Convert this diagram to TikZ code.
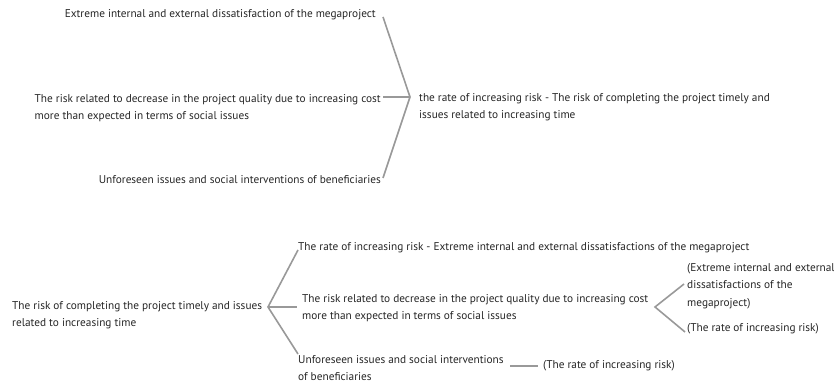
\documentclass[tikz,border=0pt]{standalone}
\usepackage{fontspec}
\setmainfont{PT Sans}
\begin{document}
\begin{tikzpicture}[x=1pt,y=-1pt,
  txt/.style={inner sep=0pt,align=left,font=\fontsize{11.3}{17.6}\selectfont,text=black!85},
  con/.style={draw=black!40,line width=1.6pt}]
\useasboundingbox (0,0) rectangle (834,387);
% top part
\node[txt,anchor=east] (t1) at (376,15) {Extreme internal and external dissatisfaction of the megaproject};
\node[txt,anchor=north east] (t2) at (381,94) {The risk related to decrease in the project quality due to increasing cost\\more than expected in terms of social issues};
\node[txt,anchor=east] (t3) at (381,180) {Unforeseen issues and social interventions of beneficiaries};
\node[txt,anchor=north west] (r) at (419,93) {the rate of increasing risk - The risk of completing the project timely and\\issues related to increasing time};
\coordinate (v) at (410,97);
\coordinate (h) at (383,97);
\draw[con] ([shift={(7,2)}]t1.east) -- (v) -- ([shift={(2,-2)}]t3.east);
\draw[con] (h) -- (v);
% bottom part
\node[txt,anchor=west] (b0) at (12,315) {The risk of completing the project timely and issues\\related to increasing time};
\coordinate (w) at (268,307);
\node[txt,anchor=west] (b1) at (298,248) {The rate of increasing risk - Extreme internal and external dissatisfactions of the megaproject};
\node[txt,anchor=north west] (b2) at (302,294) {The risk related to decrease in the project quality due to increasing cost\\more than expected in terms of social issues};
\node[txt,anchor=north west] (b3) at (298,355) {Unforeseen issues and social interventions\\of beneficiaries};
\draw[con] ([yshift=-2pt]b1.west) -- (w) -- ([yshift=1pt]b3.north west);
\coordinate (wh) at (297,307);
\draw[con] (w) -- (wh);
\coordinate (u) at (655,307);
\node[txt,anchor=north west] (c1) at (687,263) {(Extreme internal and external\\dissatisfactions of the\\megaproject)};
\node[txt,anchor=west] (c2) at (687,329) {(The rate of increasing risk)};
\coordinate (cu) at (684,284);
\draw[con] (cu) -- (u) -- ([xshift=-2pt,yshift=-3pt]c2.west);
\coordinate (s1) at (510,366);
\node[txt,anchor=west] (c3) at (543,366) {(The rate of increasing risk)};
\draw[con] (s1) -- ([xshift=-5pt]c3.west);
\end{tikzpicture}
\end{document}
